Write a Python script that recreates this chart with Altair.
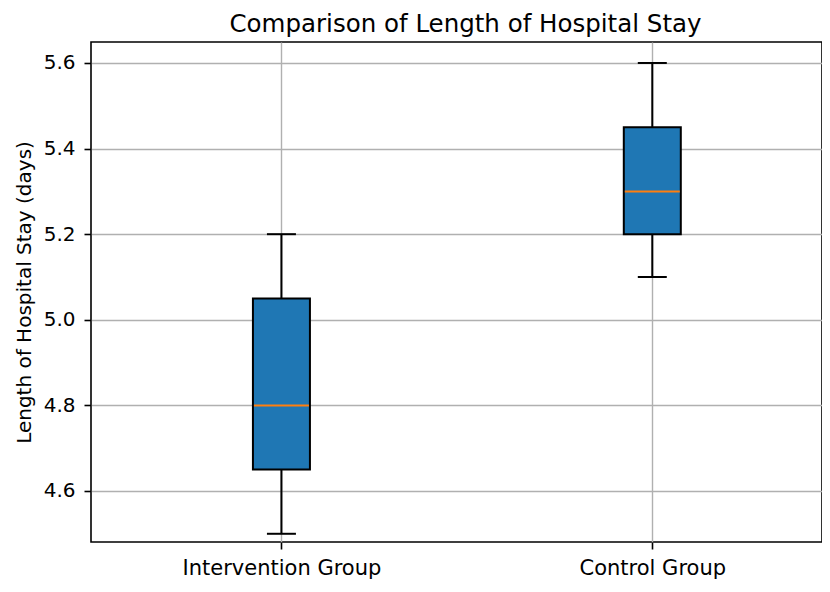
import altair as alt
import pandas as pd

groups = ["Intervention Group", "Control Group"]
positions = [1, 2]
whisker_low = [4.5, 5.1]
q1 = [4.65, 5.2]
median = [4.8, 5.3]
q3 = [5.05, 5.45]
whisker_high = [5.2, 5.6]
y_ticks = [4.6, 4.8, 5.0, 5.2, 5.4, 5.6]

df = pd.DataFrame({
    "group": groups,
    "pos": positions,
    "lo": whisker_low,
    "q1": q1,
    "med": median,
    "q3": q3,
    "hi": whisker_high,
})

FONT = "DejaVu Sans"
label_expr = " : ".join(
    f"datum.value == {p} ? '{g}'" for p, g in zip(positions, groups)
) + " : ''"

W, H = 731, 500
x_scale = alt.Scale(domain=[0.5, 2.4441], nice=False, zero=False)
y_scale = alt.Scale(domain=[4.4808, 5.649], nice=False, zero=False)

x_enc = alt.X(
    "pos:Q",
    scale=x_scale,
    axis=alt.Axis(
        values=positions,
        labelExpr=label_expr,
        title=None,
        grid=True,
        gridColor="#b0b0b0",
        gridWidth=1.4,
        domain=False,
        tickColor="black",
        tickSize=7,
        tickWidth=1.6,
        labelFont=FONT,
        labelFontSize=21,
        labelColor="black",
        labelPadding=8,
        labelLimit=0,
    ),
)

base = alt.Chart(df)

whisker = base.mark_rule(color="black", strokeWidth=2).encode(
    x=x_enc,
    y=alt.Y(
        "lo:Q",
        scale=y_scale,
        axis=alt.Axis(
            values=y_ticks,
            format=".1f",
            title="Length of Hospital Stay (days)",
            titleFont=FONT,
            titleFontSize=20,
            titleFontWeight="normal",
            titleColor="black",
            titleAngle=-90,
            titleBaseline="alphabetic",
            titleAlign="center",
            titleX=-61,
            titleY=H / 2,
            grid=True,
            gridColor="#b0b0b0",
            gridWidth=1.4,
            domain=False,
            tickColor="black",
            tickSize=7,
            tickWidth=1.6,
            labelFont=FONT,
            labelFontSize=20,
            labelColor="black",
            labelPadding=9,
            labelLimit=0,
        ),
    ),
    y2="hi:Q",
)

caps_lo = base.mark_tick(orient="horizontal", size=29, thickness=2, color="black", opacity=1).encode(
    x="pos:Q", y="lo:Q"
)
caps_hi = base.mark_tick(orient="horizontal", size=29, thickness=2, color="black", opacity=1).encode(
    x="pos:Q", y="hi:Q"
)

box = base.mark_bar(size=57, fill="#1f77b4", stroke="black", strokeWidth=2, opacity=1).encode(
    x="pos:Q", y="q1:Q", y2="q3:Q"
)

med = base.mark_tick(orient="horizontal", size=55, thickness=2, color="#ff7f0e", opacity=1).encode(
    x="pos:Q", y="med:Q"
)

chart = (
    alt.layer(whisker, caps_lo, caps_hi, box, med)
    .properties(
        width=W,
        height=H,
        title=alt.TitleParams(
            "Comparison of Length of Hospital Stay",
            font=FONT,
            fontSize=24.5,
            fontWeight="normal",
            color="black",
            anchor="middle",
            offset=5,
            dx=9,
        ),
        autosize=alt.AutoSizeParams(type="none"),
        padding={"left": 83, "top": 34, "right": 0, "bottom": 40},
    )
    .configure(
        background="white",
        view=alt.ViewConfig(stroke="black", strokeWidth=1.6),
    )
)

chart.save("out.html", embed_options={"renderer": "svg", "actions": False})
